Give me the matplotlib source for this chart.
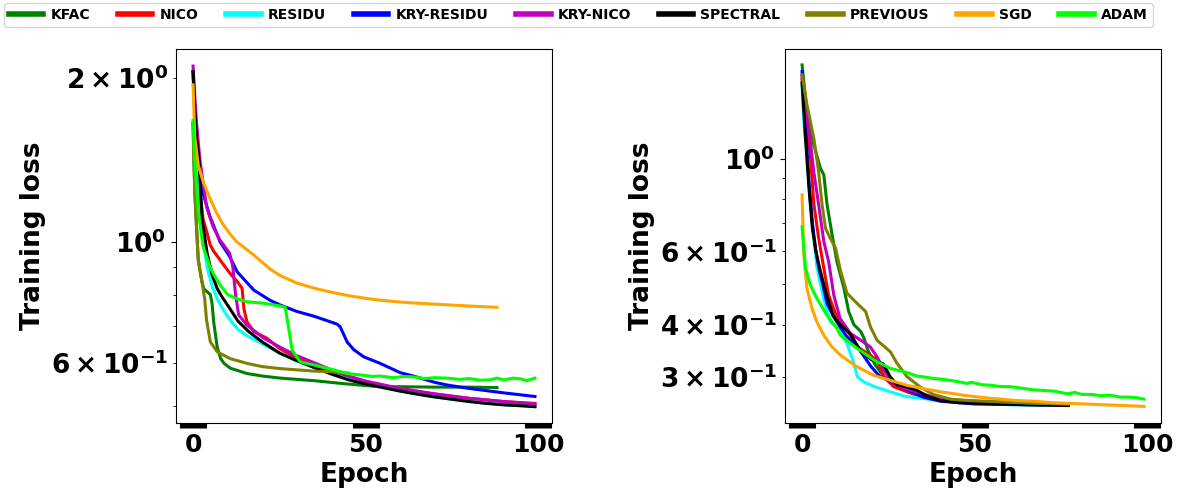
import matplotlib
matplotlib.use("Agg")
import matplotlib.pyplot as plt

plt.rcParams['font.family'] = ['DejaVu Sans']
plt.rcParams['font.weight'] = 'bold'
plt.rcParams['axes.labelweight'] = 'bold'

methods = ["KFAC", "NICO", "RESIDU", "KRY-RESIDU", "KRY-NICO", "SPECTRAL", "PREVIOUS", "SGD", "ADAM"]
colors = ["green", "red", "cyan", "blue", "m", "black", "olive", "orange", "lime"]

# ---------------- Left panel ----------------
kfac_l_x = [0, 0.24, 0.53, 1, 1.5, 2.5, 3.1, 4, 5, 5.5, 6, 7, 8, 9, 10.8, 15.6, 20, 25.3, 35, 43.6, 54, 60, 70, 80, 88]
kfac_l_y = [1.65, 1.41, 1.226, 1.065, 0.926, 0.85, 0.82, 0.81, 0.80, 0.77, 0.71, 0.64, 0.61, 0.598, 0.586, 0.573, 0.567, 0.562, 0.556, 0.549, 0.542, 0.542, 0.541, 0.541, 0.540]

nico_l_x = [0, 0.5, 1, 1.5, 2.9, 4, 5, 6, 8.9, 11, 12.8, 14.2, 14.7, 15.6, 17.6, 21.4, 25, 30, 35, 40, 45, 50, 60, 70, 80, 90, 99]
nico_l_y = [2.05, 1.75, 1.55, 1.32, 1.10, 1.04, 0.985, 0.96, 0.906, 0.87, 0.845, 0.821, 0.754, 0.713, 0.684, 0.665, 0.637, 0.612, 0.593, 0.577, 0.563, 0.553, 0.537, 0.525, 0.516, 0.509, 0.505]

residu_l_x = [0, 0.5, 1, 1.7, 2.6, 4, 5.5, 7, 9, 11, 13, 16, 20, 25, 30, 35, 40, 50, 60, 70, 80, 90, 99]
residu_l_y = [2.0, 1.70, 1.50, 1.30, 1.05, 0.90, 0.83, 0.785, 0.745, 0.715, 0.69, 0.67, 0.65, 0.625, 0.605, 0.588, 0.572, 0.548, 0.532, 0.519, 0.509, 0.502, 0.499]

kryres_l_x = [0, 0.5, 1, 1.5, 2.9, 4.9, 7.8, 10.6, 12.8, 17.6, 22.4, 25.3, 30, 35, 41.7, 42.6, 44.6, 46.5, 49.4, 54.2, 60, 63.8, 70, 73.5, 80, 83, 90, 99]
kryres_l_y = [2.05, 1.75, 1.55, 1.41, 1.226, 1.111, 1.0, 0.939, 0.88, 0.815, 0.78, 0.765, 0.745, 0.73, 0.706, 0.698, 0.655, 0.634, 0.615, 0.598, 0.575, 0.567, 0.552, 0.546, 0.538, 0.535, 0.528, 0.52]

krynico_l_x = [0, 0.5, 1, 2, 3.9, 5.8, 7.8, 10.6, 11.5, 12.3, 13.2, 15.6, 20.5, 25.3, 30, 35, 40, 45, 50, 60, 70, 80, 90, 99]
krynico_l_y = [2.10, 1.85, 1.65, 1.41, 1.16, 1.065, 1.007, 0.952, 0.90, 0.80, 0.734, 0.703, 0.665, 0.64, 0.618, 0.60, 0.582, 0.567, 0.555, 0.538, 0.526, 0.516, 0.509, 0.504]

spectral_l_x = [0, 0.5, 1, 1.7, 2.6, 4.1, 5.5, 7, 8.5, 10, 13, 16, 20, 25, 30, 35, 40, 45, 50, 55, 60, 65, 70, 75, 80, 85, 90, 95, 99]
spectral_l_y = [2.05, 1.75, 1.55, 1.42, 1.10, 0.95, 0.87, 0.82, 0.79, 0.765, 0.715, 0.685, 0.655, 0.625, 0.605, 0.588, 0.572, 0.558, 0.548, 0.54, 0.532, 0.525, 0.519, 0.514, 0.509, 0.505, 0.502, 0.500, 0.498]

previous_l_x = [0, 0.24, 0.53, 1, 1.5, 2.5, 3.4, 3.9, 5, 7, 10.8, 15.7, 20, 25.3, 30, 35, 40.7, 45]
previous_l_y = [1.65, 1.41, 1.226, 1.065, 0.926, 0.85, 0.782, 0.718, 0.655, 0.628, 0.61, 0.598, 0.59, 0.585, 0.582, 0.579, 0.577, 0.574]

sgd_l_x = [0, 0.5, 1.5, 2.9, 4.9, 6.8, 8.7, 10.6, 12.6, 17.6, 22.4, 25.3, 30, 35, 40, 44.6, 50, 54.2, 60, 63.8, 70, 73.5, 80, 88]
sgd_l_y = [1.94, 1.56, 1.38, 1.29, 1.20, 1.13, 1.075, 1.035, 1.0, 0.945, 0.89, 0.866, 0.84, 0.822, 0.808, 0.797, 0.787, 0.781, 0.775, 0.772, 0.768, 0.766, 0.762, 0.758]

adam_l_x = [0, 0.5, 1.5, 2.9, 4.9, 6, 8, 10, 12.8, 15.6, 20.5, 25.3, 26.7, 28.7, 31, 35, 40.7, 44.6, 48, 52, 54.2, 58, 61, 63.8, 67, 70, 73.5, 77, 80, 83, 86, 88, 90, 92.7, 95, 96.6, 99]
adam_l_y = [1.67, 1.41, 1.14, 0.979, 0.9, 0.87, 0.83, 0.80, 0.785, 0.776, 0.771, 0.762, 0.758, 0.633, 0.602, 0.594, 0.582, 0.573, 0.570, 0.566, 0.567, 0.563, 0.566, 0.565, 0.561, 0.563, 0.562, 0.559, 0.561, 0.557, 0.558, 0.562, 0.558, 0.562, 0.560, 0.556, 0.562]

# ---------------- Right panel ----------------
kfac_r_x = [0, 1.4, 3.4, 5.3, 6.3, 7.2, 8.7, 10.1, 12.1, 13.5, 15, 17, 18, 19, 21, 23.7, 27.5, 32, 40, 50, 60, 77]
kfac_r_y = [1.68, 1.30, 1.08, 0.95, 0.915, 0.78, 0.657, 0.566, 0.49, 0.43, 0.40, 0.385, 0.37, 0.348, 0.322, 0.30, 0.284, 0.273, 0.265, 0.262, 0.26, 0.258]

nico_r_x = [0, 1, 2.4, 3.4, 4.8, 6.3, 7.7, 9.7, 11, 13, 16, 19, 21.7, 23.7, 26.5, 30.4, 35, 40, 50, 77]
nico_r_y = [1.55, 1.25, 1.02, 0.78, 0.645, 0.546, 0.47, 0.425, 0.41, 0.388, 0.354, 0.341, 0.329, 0.30, 0.284, 0.276, 0.269, 0.264, 0.259, 0.256]

residu_r_x = [0, 0.5, 1.4, 2.4, 3.4, 4.3, 6.3, 8.2, 11, 13, 15, 16, 18, 21, 25.5, 30, 35, 40, 50, 60, 77]
residu_r_y = [1.50, 1.23, 1.02, 0.78, 0.645, 0.55, 0.46, 0.406, 0.388, 0.36, 0.323, 0.30, 0.291, 0.284, 0.276, 0.269, 0.266, 0.263, 0.259, 0.257, 0.2555]

kryres_r_x = [0, 1, 2, 3, 4, 5, 6, 7.2, 9, 11, 13, 16, 18, 20, 22.6, 26.5, 30.4, 35, 40, 50, 77]
kryres_r_y = [1.62, 1.2, 0.88, 0.70, 0.6, 0.54, 0.5, 0.45, 0.42, 0.395, 0.374, 0.354, 0.335, 0.317, 0.30, 0.29, 0.279, 0.268, 0.262, 0.258, 0.256]

krynico_r_x = [0, 1, 2.4, 3.4, 4.8, 6.3, 7.7, 9.2, 11, 14, 17, 19.7, 21.7, 23.7, 25.6, 28.5, 33, 40, 50, 77]
krynico_r_y = [1.58, 1.3, 1.1, 0.93, 0.775, 0.633, 0.566, 0.47, 0.414, 0.381, 0.367, 0.354, 0.335, 0.311, 0.294, 0.284, 0.276, 0.265, 0.26, 0.256]

spectral_r_x = [0, 1, 2, 3, 4, 5, 6, 7, 8, 9, 11, 14, 17, 20, 23.5, 25.5, 27.5, 30, 33, 36, 40, 45, 50, 57, 65, 77]
spectral_r_y = [1.52, 1.12, 0.85, 0.68, 0.6, 0.55, 0.51, 0.475, 0.445, 0.42, 0.40, 0.38, 0.345, 0.33, 0.322, 0.30, 0.287, 0.284, 0.279, 0.27, 0.263, 0.26, 0.259, 0.258, 0.257, 0.256]

previous_r_x = [0, 1.4, 3.4, 4.8, 5.8, 6.8, 8.2, 9.7, 11.1, 13, 15.9, 18.4, 19.8, 21.7, 25.6, 27.5, 30.4, 34.3, 38, 43, 48, 57.5, 67, 77]
previous_r_y = [1.59, 1.35, 1.12, 0.93, 0.775, 0.68, 0.644, 0.61, 0.54, 0.476, 0.45, 0.43, 0.395, 0.367, 0.344, 0.323, 0.30, 0.283, 0.272, 0.265, 0.263, 0.261, 0.259, 0.258]

sgd_r_x = [0, 0.5, 1.4, 2.9, 4.3, 6.3, 8.5, 11.1, 13.5, 15.9, 20.8, 25.6, 30.4, 35, 40, 44, 47.8, 53, 57.5, 62, 67, 72, 76.8, 82, 86.5, 92, 99]
sgd_r_y = [0.819, 0.588, 0.489, 0.437, 0.406, 0.377, 0.355, 0.338, 0.327, 0.317, 0.302, 0.294, 0.286, 0.281, 0.276, 0.273, 0.270, 0.267, 0.265, 0.263, 0.262, 0.260, 0.259, 0.258, 0.257, 0.256, 0.2546]

adam_r_x = [0, 1, 2.4, 4.3, 7.2, 10.1, 11.1, 15.9, 20.8, 25.6, 30.4, 33.3, 36, 38.1, 40, 43, 46, 47.8, 49, 52, 55, 57.5, 60, 63, 67, 70, 73, 76.8, 79, 81, 84, 86.5, 89, 92, 95, 97, 99]
adam_r_y = [0.687, 0.546, 0.498, 0.462, 0.421, 0.392, 0.377, 0.351, 0.329, 0.314, 0.307, 0.301, 0.299, 0.297, 0.296, 0.294, 0.291, 0.289, 0.291, 0.287, 0.286, 0.284, 0.284, 0.282, 0.279, 0.278, 0.277, 0.273, 0.275, 0.272, 0.272, 0.270, 0.271, 0.268, 0.268, 0.267, 0.265]

left_series = [(kfac_l_x, kfac_l_y), (nico_l_x, nico_l_y), (residu_l_x, residu_l_y),
               (kryres_l_x, kryres_l_y), (krynico_l_x, krynico_l_y), (spectral_l_x, spectral_l_y),
               (previous_l_x, previous_l_y), (sgd_l_x, sgd_l_y), (adam_l_x, adam_l_y)]
right_series = [(kfac_r_x, kfac_r_y), (nico_r_x, nico_r_y), (residu_r_x, residu_r_y),
                (kryres_r_x, kryres_r_y), (krynico_r_x, krynico_r_y), (spectral_r_x, spectral_r_y),
                (previous_r_x, previous_r_y), (sgd_r_x, sgd_r_y), (adam_r_x, adam_r_y)]

xticks = [0, 50, 100]

fig = plt.figure(figsize=(11.89, 4.95), dpi=100)
ax1 = fig.add_axes([0.148, 0.1455, 0.3163, 0.7556])
ax2 = fig.add_axes([0.6602, 0.1455, 0.3163, 0.7556])

handles = []
for ax, series, ylim in [(ax1, left_series, (0.465, 2.257)), (ax2, right_series, (0.2323, 1.835))]:
    for (x, y), name, c in zip(series, methods, colors):
        ln, = ax.plot(x, y, color=c, lw=2.2, label=name)
        if ax is ax1:
            handles.append(ln)
    ax.set_yscale('log')
    ax.set_xlim(-4.95, 103.95)
    ax.set_ylim(*ylim)
    ax.set_xticks(xticks)
    ax.set_xlabel("Epoch", fontsize=19, fontweight='bold')
    ax.set_ylabel("Training loss", fontsize=19, fontweight='bold')
    ax.tick_params(axis='x', which='major', width=19.5, length=3.5, labelsize=18)
    ax.tick_params(axis='y', which='both', labelsize=19)
    for lab in ax.get_xticklabels() + ax.get_yticklabels(which='both'):
        lab.set_fontweight('bold')

leg = fig.legend(handles=handles, labels=methods, loc='upper left', bbox_to_anchor=(0.002, 0.997),
                 ncol=9, handlelength=2.5, handletextpad=0.5, columnspacing=2.0,
                 borderaxespad=0.1, borderpad=0.35,
                 prop={'weight': 'bold', 'size': 10})
for h in leg.get_lines():
    h.set_linewidth(4)

fig.savefig("out.png", dpi=100)
